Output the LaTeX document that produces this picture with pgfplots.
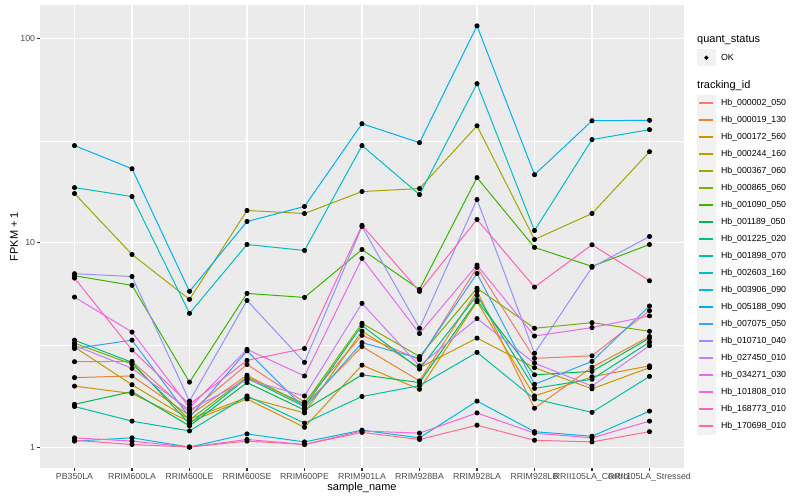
\documentclass[border=0pt]{standalone}
\usepackage{fontspec}
\setmainfont{Liberation Sans}
\usepackage{pgfplots}
\usepackage{pgfplotstable}
\pgfplotsset{compat=1.18}

% ggplot2 hue palette, 20 levels
\definecolor{c1}{HTML}{F8766D}
\definecolor{c2}{HTML}{EA8331}
\definecolor{c3}{HTML}{D89000}
\definecolor{c4}{HTML}{C09B00}
\definecolor{c5}{HTML}{A3A500}
\definecolor{c6}{HTML}{7CAE00}
\definecolor{c7}{HTML}{39B600}
\definecolor{c8}{HTML}{00BB4E}
\definecolor{c9}{HTML}{00BF7D}
\definecolor{c10}{HTML}{00C1A3}
\definecolor{c11}{HTML}{00BFC4}
\definecolor{c12}{HTML}{00BAE0}
\definecolor{c13}{HTML}{00B0F6}
\definecolor{c14}{HTML}{35A2FF}
\definecolor{c15}{HTML}{9590FF}
\definecolor{c16}{HTML}{C77CFF}
\definecolor{c17}{HTML}{E76BF3}
\definecolor{c18}{HTML}{FA62DB}
\definecolor{c19}{HTML}{FF62BC}
\definecolor{c20}{HTML}{FF6C91}
\definecolor{ggbg}{HTML}{EBEBEB}
\definecolor{ggkey}{HTML}{F2F2F2}
\definecolor{ggtick}{HTML}{333333}
\definecolor{ggtext}{HTML}{4D4D4D}

% FPKM + 1, one column per tracking_id, x = sample index
\pgfplotstableread{
x  s1   s2   s3   s4   s5    s6   s7   s8   s9   s10  s11   s12  s13   s14  s15   s16  s17  s18  s19   s20
0  2.62 2.19 1.99 3.09 17.47 3.23 6.91 1.62 3.34 1.58 18.68 1.07 30.0  3.04 7.07  3.15 5.43 1.11 6.73  1.08
1  2.63 2.23 1.83 2.02 8.78  2.55 6.20 1.87 2.60 1.34 16.88 1.11 23.1  3.34 6.85  2.43 3.66 1.07 2.99  1.03
2  1.48 1.43 1.33 1.37 5.29  1.36 2.08 1.27 1.30 1.20 4.52  1.00 5.79  1.40 1.68  1.52 1.56 1.00 1.62  1.00
3  2.54 2.25 1.72 1.75 14.42 2.20 5.66 2.07 2.18 1.78 9.83  1.16 12.74 2.96 5.23  2.14 3.01 1.09 2.66  1.07
4  1.66 1.60 1.25 1.47 13.94 1.63 5.41 1.52 1.58 1.31 9.19  1.06 15.09 1.55 2.60  1.78 2.23 1.03 3.04  1.03
5  3.53 3.11 2.52 3.70 17.86 4.04 9.29 2.26 3.94 1.77 30.0  1.21 38.4  3.25 12.04 5.06 8.40 1.20 12.2  1.18
6  2.68 2.11 1.92 2.45 18.48 2.78 5.92 2.07 2.41 2.00 17.27 1.11 31.0  2.72 3.82  2.50 3.60 1.17 5.79  1.09
7  7.59 5.81 5.16 3.42 37.5  6.00 20.9 5.23 5.54 2.91 60.3  1.68 115.8 7.09 16.32 4.26 7.79 1.47 13.03 1.28
8  2.72 1.55 1.78 2.45 10.40 3.82 9.51 2.26 1.94 1.72 11.51 1.19 21.6  2.03 2.88  2.58 3.50 1.17 6.08  1.08
9  2.80 2.46 2.21 1.93 13.94 4.07 7.68 2.35 2.15 1.48 32.1  1.13 39.7  2.63 7.60  1.99 3.85 1.11 9.80  1.06
10 4.66 3.48 2.50 2.45 28.0  3.69 9.83 3.42 3.27 2.22 35.9  1.50 39.9  4.91 10.76 3.14 4.39 1.34 6.53  1.19
}\fpkm

\begin{document}
\begin{tikzpicture}
\path (0,0) rectangle (800pt,500pt);
\begin{axis}[
  at={(40pt,32pt)}, anchor=south west,
  scale only axis, width=644pt, height=463pt,
  ymode=log,
  xmin=-0.6, xmax=10.6, ymin=0.79, ymax=146.5,
  xtick={0,...,10},
  xticklabels={PB350LA,RRIM600LA,RRIM600LE,RRIM600SE,RRIM600PE,RRIM901LA,RRIM928BA,RRIM928LA,RRIM928LB,RRII105LA\_Control,RRII105LA\_Stressed},
  ytick={1,10,100}, yticklabels={1,10,100},
  minor ytick={3.1623,31.623},
  axis background/.style={fill=ggbg},
  axis line style={draw=none},
  grid=both,
  major grid style={white, line width=1.07pt},
  minor grid style={white, line width=0.53pt},
  tick align=outside, major tick length=2.75pt, minor tick length=0pt,
  tick style={ggtick, line width=1.07pt},
  xtick pos=bottom, ytick pos=left,
  ticklabel style={font=\fontsize{8.8}{10}\selectfont, text=ggtext},
  yticklabel style={inner sep=2pt},
  xticklabel style={inner sep=2pt},
  /pgf/number format/assume math mode=true,
  xlabel={sample\_name}, ylabel={FPKM + 1},
  label style={font=\fontsize{11}{13}\selectfont},
  xlabel style={at={(axis description cs:0.5,-0.0432)}, anchor=center},
  ylabel style={at={(axis description cs:-0.0404,0.5)}, anchor=center},
  set layers, mark layer=axis foreground,
  legend cell align=left,
  legend style={at={(1.0202,0.904968)}, anchor=north west, draw=none, fill=none,
    inner sep=0pt, row sep=0pt, column sep=5.5pt,
    font=\fontsize{8.8}{10}\selectfont, nodes={inner sep=0pt}},
  legend image code/.code={
    \fill[ggkey] (0pt,-8pt) rectangle (17.3pt,8pt);
    \draw[#1, line width=1.5pt] (1.7pt,0pt) -- (15.6pt,0pt);
  },
  every axis plot/.append style={line width=1pt, mark=*, mark size=2pt,
    mark options={draw=black, fill=black}},
]
% quant_status key, then a spacer row for the tracking_id title
\addlegendimage{legend image code/.code={
    \fill[ggkey] (0pt,-8pt) rectangle (17.3pt,8pt);
    \fill[black] (8.65pt,0pt) circle (1.5pt);}}
\addlegendentry{OK}
\addlegendimage{empty legend}
\addlegendentry{\rule{0pt}{27pt}}

\addplot[c1]  table[x=x, y=s1]  {\fpkm}; \addlegendentry{Hb\_000002\_050}
\addplot[c2]  table[x=x, y=s2]  {\fpkm}; \addlegendentry{Hb\_000019\_130}
\addplot[c3]  table[x=x, y=s3]  {\fpkm}; \addlegendentry{Hb\_000172\_560}
\addplot[c4]  table[x=x, y=s4]  {\fpkm}; \addlegendentry{Hb\_000244\_160}
\addplot[c5]  table[x=x, y=s5]  {\fpkm}; \addlegendentry{Hb\_000367\_060}
\addplot[c6]  table[x=x, y=s6]  {\fpkm}; \addlegendentry{Hb\_000865\_060}
\addplot[c7]  table[x=x, y=s7]  {\fpkm}; \addlegendentry{Hb\_001090\_050}
\addplot[c8]  table[x=x, y=s8]  {\fpkm}; \addlegendentry{Hb\_001189\_050}
\addplot[c9]  table[x=x, y=s9]  {\fpkm}; \addlegendentry{Hb\_001225\_020}
\addplot[c10] table[x=x, y=s10] {\fpkm}; \addlegendentry{Hb\_001898\_070}
\addplot[c11] table[x=x, y=s11] {\fpkm}; \addlegendentry{Hb\_002603\_160}
\addplot[c12] table[x=x, y=s12] {\fpkm}; \addlegendentry{Hb\_003906\_090}
\addplot[c13] table[x=x, y=s13] {\fpkm}; \addlegendentry{Hb\_005188\_090}
\addplot[c14] table[x=x, y=s14] {\fpkm}; \addlegendentry{Hb\_007075\_050}
\addplot[c15] table[x=x, y=s15] {\fpkm}; \addlegendentry{Hb\_010710\_040}
\addplot[c16] table[x=x, y=s16] {\fpkm}; \addlegendentry{Hb\_027450\_010}
\addplot[c17] table[x=x, y=s17] {\fpkm}; \addlegendentry{Hb\_034271\_030}
\addplot[c18] table[x=x, y=s18] {\fpkm}; \addlegendentry{Hb\_101808\_010}
\addplot[c19] table[x=x, y=s19] {\fpkm}; \addlegendentry{Hb\_168773\_010}
\addplot[c20] table[x=x, y=s20] {\fpkm}; \addlegendentry{Hb\_170698\_010}
\end{axis}

\node[anchor=west, inner sep=0pt, font=\fontsize{11}{13}\selectfont] at (697pt,460pt) {quant\_status};
\node[anchor=west, inner sep=0pt, font=\fontsize{11}{13}\selectfont] at (697pt,414pt) {tracking\_id};
\end{tikzpicture}
\end{document}
